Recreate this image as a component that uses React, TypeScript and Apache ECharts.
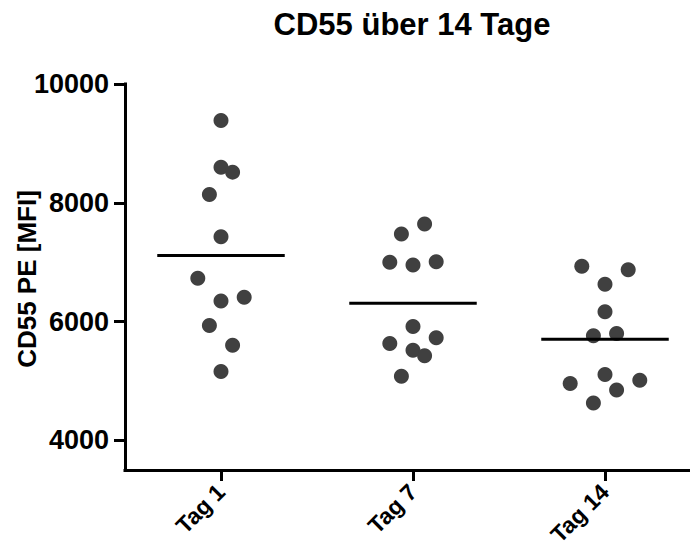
import React, { useEffect, useRef } from "react";
import * as echarts from "echarts";

const categories = ["Tag 1", "Tag 7", "Tag 14"];

const tag1Values = [9386, 8600, 8516, 8138, 7429, 6727, 6344, 6407, 5935, 5602, 5159];
const tag1Slots = [0, 0, 1, -1, 0, -2, 0, 2, -1, 1, 0];

const tag7Values = [7643, 7475, 6997, 6952, 7007, 5918, 5725, 5631, 5518, 5422, 5079];
const tag7Slots = [1, -1, -2, 0, 2, 0, 2, -2, 0, 1, -1];

const tag14Values = [6930, 6872, 6626, 6164, 5759, 5800, 5108, 4956, 5012, 4848, 4629];
const tag14Slots = [-2, 2, 0, 0, -1, 1, 0, -3, 3, 1, -1];

const yTicks = [4000, 6000, 8000, 10000];

const FONT = "'Liberation Sans', Arial, sans-serif";
const SLOT_W = 0.0604;
const MEAN_HALF = 0.332;

export default function App() {
  const ref = useRef<HTMLDivElement>(null);

  useEffect(() => {
    if (!ref.current) return;
    const chart = echarts.init(ref.current, null, { renderer: "svg" });

    const groups = [
      { values: tag1Values, slots: tag1Slots },
      { values: tag7Values, slots: tag7Slots },
      { values: tag14Values, slots: tag14Slots },
    ];

    const scatterData: number[][] = [];
    groups.forEach((g, i) => {
      g.values.forEach((v, k) => {
        scatterData.push([i + 1 + g.slots[k] * SLOT_W, v]);
      });
    });

    const meanData = groups.map((g, i) => [
      i + 1,
      g.values.reduce((a, b) => a + b, 0) / g.values.length,
    ]);

    const axisLineStyle = { color: "#000", width: 3, cap: "square" };

    chart.setOption({
      animation: false,
      title: {
        text: "CD55 über 14 Tage",
        left: 407,
        top: 4,
        textAlign: "center",
        textStyle: { fontFamily: FONT, fontWeight: "bold", fontSize: 31, color: "#000" },
      },
      graphic: [
        {
          type: "text",
          x: 27,
          y: 279,
          rotation: Math.PI / 2,
          style: {
            text: "CD55 PE [MFI]",
            fontFamily: FONT,
            fontWeight: "bold",
            fontSize: 26,
            fill: "#000",
            align: "center",
            verticalAlign: "middle",
          },
        },
      ],
      grid: { left: 125, top: 84, width: 576, height: 386, outerBoundsMode: "none", containLabel: false },
      xAxis: [
        {
          type: "category",
          data: categories,
          boundaryGap: true,
          axisLine: { show: true, lineStyle: axisLineStyle },
          axisTick: { show: true, alignWithLabel: true, length: 11, lineStyle: { color: "#000", width: 3 } },
          axisLabel: {
            rotate: 45,
            margin: 18,
            fontFamily: FONT,
            fontWeight: "bold",
            fontSize: 23,
            color: "#000",
          },
          splitLine: { show: false },
        },
        { type: "value", min: 0.5, max: 3.5, show: false },
      ],
      yAxis: {
        type: "value",
        min: 3500,
        max: 10000,
        axisLine: { show: true, lineStyle: axisLineStyle },
        axisTick: { show: true, length: 11, customValues: yTicks, lineStyle: { color: "#000", width: 3 } },
        axisLabel: {
          customValues: yTicks,
          formatter: (v: number) => String(v),
          margin: 16,
          fontFamily: FONT,
          fontWeight: "bold",
          fontSize: 27,
          color: "#000",
        },
        splitLine: { show: false },
      },
      series: [
        {
          type: "scatter",
          xAxisIndex: 1,
          data: scatterData,
          symbol: "circle",
          symbolSize: 15,
          itemStyle: { color: "#404040", opacity: 1 },
          z: 2,
        },
        {
          type: "custom",
          xAxisIndex: 1,
          data: meanData,
          z: 3,
          renderItem: (params: any, api: any) => {
            const a = api.coord([api.value(0) - MEAN_HALF, api.value(1)]);
            const b = api.coord([api.value(0) + MEAN_HALF, api.value(1)]);
            return {
              type: "line",
              shape: { x1: a[0], y1: a[1], x2: b[0], y2: b[1] },
              style: { stroke: "#000", lineWidth: 3 },
            };
          },
        },
      ],
    });

    return () => chart.dispose();
  }, []);

  return (
    <div
      ref={ref}
      style={{ position: "fixed", left: 0, top: 0, width: 690, height: 546, background: "#fff" }}
    />
  );
}
